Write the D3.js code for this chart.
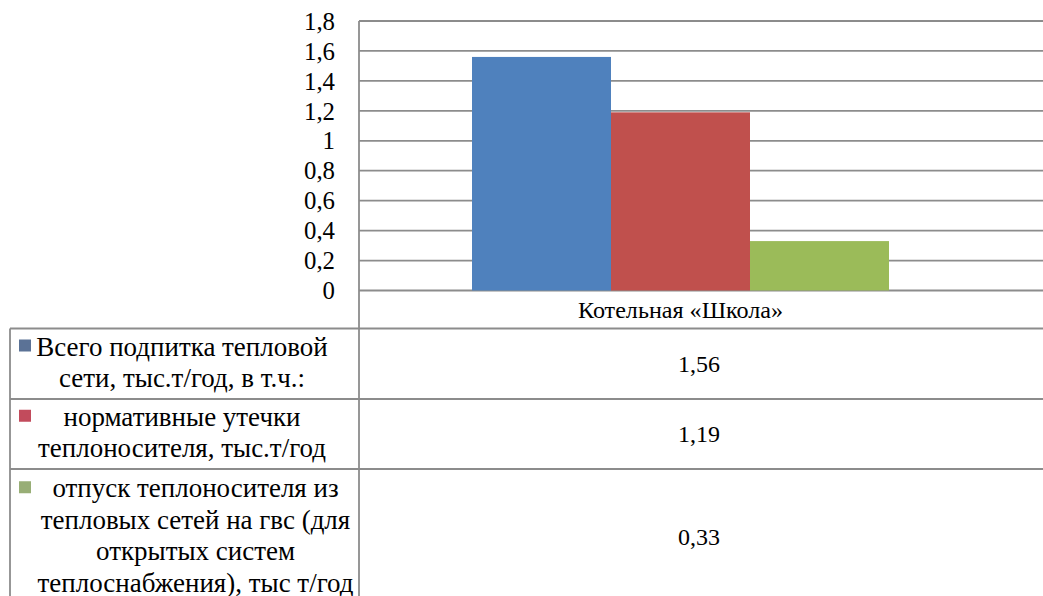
<!DOCTYPE html>
<html>
<head>
<meta charset="utf-8">
<script src="https://cdn.jsdelivr.net/npm/d3@7/dist/d3.min.js"></script>
<style>
  html, body { margin: 0; padding: 0; background: #fff; }
  svg { display: block; }
</style>
</head>
<body>
<svg id="chart" width="1043" height="596"></svg>
<script>
// Data
const categories = ["Котельная «Школа»"];
const seriesNames = [
  ["Всего подпитка тепловой", "сети, тыс.т/год, в т.ч.:"],
  ["нормативные утечки", "теплоносителя, тыс.т/год"],
  ["отпуск теплоносителя из", "тепловых сетей на гвс (для", "открытых систем", "теплоснабжения), тыс т/год"]
];
const seriesValues = [1.56, 1.19, 0.33];
const barColors = ["#4f81bd", "#c0504d", "#9bbb59"];
const keyColors = ["#5b7296", "#c24b5c", "#98ae76"];
const yTicks = [0, 0.2, 0.4, 0.6, 0.8, 1, 1.2, 1.4, 1.6, 1.8];

const ru = d3.formatLocale({ decimal: ",", thousands: " ", grouping: [3], currency: ["", ""] });
const fmtTick = ru.format("~g");
const fmtVal = ru.format(".2f");

// Pick the first installed serif face from a preference list
function pickFont(cands, fallback) {
  const c = document.createElement("canvas").getContext("2d");
  const probe = "теплоснабжения Wmil 1,56";
  for (const f of cands) {
    for (const base of ["monospace", "sans-serif"]) {
      c.font = `40px ${base}`;
      const w0 = c.measureText(probe).width;
      c.font = `40px "${f}", ${base}`;
      if (Math.abs(c.measureText(probe).width - w0) > 0.5) return `"${f}"`;
    }
  }
  return fallback;
}
const serif = pickFont(["Liberation Serif", "Tinos", "Times New Roman", "Noto Serif", "DejaVu Serif"], "serif");

// Layout
const W = 1043, H = 596;
const axisX = 359, plotRight = 1043;
const plotTop = 21, plotBottom = 290.5;
const tableTop = 328.5, tableLeft = 10;
const rowBounds = [328.5, 399, 469, 605];
const gridColor = "#8c8c8c";

const svg = d3.select("#chart").style("font-family", serif);

// Font size that gives a text a wanted width in the chosen face
const measureCtx = document.createElement("canvas").getContext("2d");
function sizeFor(str, width) {
  measureCtx.font = `100px ${serif}`;
  return 100 * width / measureCtx.measureText(str).width;
}
const tickSize = sizeFor("0,8", 31);
const catSize = sizeFor(categories[0], 205);
const nameSize = sizeFor("теплоснабжения), тыс т/год", 316);
const valSize = sizeFor("1,56", 42);

const y = d3.scaleLinear().domain([0, 1.8]).range([plotBottom, plotTop]);
const x0 = d3.scaleBand().domain(categories).range([axisX, 1002]).paddingInner(0).paddingOuter(0.271);
const x1 = d3.scaleBand().domain(d3.range(seriesValues.length)).range([0, x0.bandwidth()]);

// Gridlines
svg.append("g").selectAll("line").data(yTicks).join("line")
  .attr("x1", axisX).attr("x2", plotRight)
  .attr("y1", d => y(d)).attr("y2", d => y(d))
  .attr("stroke", gridColor).attr("stroke-width", 1.8);

// Bars
svg.append("g").selectAll("rect").data(seriesValues).join("rect")
  .attr("x", (d, i) => x0(categories[0]) + x1(i))
  .attr("width", x1.bandwidth())
  .attr("y", d => y(d))
  .attr("height", d => y(0) - y(d))
  .attr("fill", (d, i) => barColors[i]);

// Y tick labels
svg.append("g").selectAll("text").data(yTicks).join("text")
  .attr("x", 335).attr("y", d => y(d))
  .attr("dy", "0.35em")
  .attr("text-anchor", "end")
  .attr("font-size", tickSize)
  .text(d => fmtTick(d));

// Category label
svg.append("text")
  .attr("x", x0(categories[0]) + x0.bandwidth() / 2)
  .attr("y", 310).attr("dy", "0.35em")
  .attr("text-anchor", "middle")
  .attr("font-size", catSize)
  .text(categories[0]);

// Table grid
const g = svg.append("g").attr("stroke", gridColor).attr("stroke-width", 1.8);
rowBounds.slice(0, 3).forEach(yy => {
  g.append("line").attr("x1", tableLeft).attr("x2", W).attr("y1", yy).attr("y2", yy);
});
g.append("line").attr("x1", tableLeft).attr("x2", tableLeft).attr("y1", tableTop).attr("y2", H);
g.append("line").attr("x1", axisX).attr("x2", axisX).attr("y1", plotTop).attr("y2", H);

// Table rows: legend key, series name, value
const lineH = 31.5;
const nameCenters = [182, 182, 195.5];
const valueCenter = 699;
seriesNames.forEach((lines, i) => {
  const top = rowBounds[i], bottom = rowBounds[i + 1];
  const mid = (top + bottom) / 2;
  const firstBase = mid + 7.5 - (lines.length - 1) * lineH / 2;
  const t = svg.append("text")
    .attr("text-anchor", "middle")
    .attr("font-size", nameSize);
  lines.forEach((ln, k) => {
    t.append("tspan").attr("x", nameCenters[i]).attr("y", firstBase + k * lineH).text(ln);
  });
  svg.append("rect")
    .attr("x", 19).attr("y", firstBase - 16)
    .attr("width", 12).attr("height", 12)
    .attr("fill", keyColors[i]);
  svg.append("text")
    .attr("x", valueCenter).attr("y", mid).attr("dy", "0.35em")
    .attr("text-anchor", "middle")
    .attr("font-size", valSize)
    .text(fmtVal(seriesValues[i]));
});
</script>
</body>
</html>
